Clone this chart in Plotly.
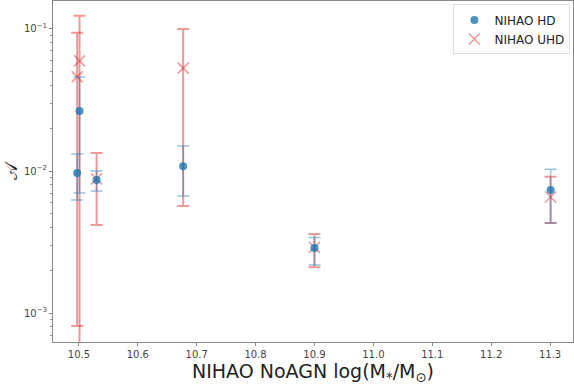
import plotly.graph_objects as go

# NIHAO HD
hd_x = [10.497, 10.501, 10.530, 10.677, 10.900, 11.301]
hd_y = [0.0097, 0.0265, 0.00865, 0.0108, 0.00287, 0.00735]
hd_hi = [0.0132, 0.0459, 0.0100, 0.0150, 0.0034, 0.0103]
hd_lo = [0.00625, 0.0070, 0.00723, 0.00667, 0.00218, 0.0043]

# NIHAO UHD
uhd_x = [10.497, 10.501, 10.530, 10.677, 10.900, 11.301]
uhd_y = [0.046, 0.0596, 0.0088, 0.053, 0.0029, 0.00656]
uhd_hi = [0.094, 0.124, 0.0134, 0.100, 0.0036, 0.0091]
uhd_lo = [0.00081, 0.00001, 0.00417, 0.00567, 0.0021, 0.0043]

x_ticks = [10.5, 10.6, 10.7, 10.8, 10.9, 11.0, 11.1, 11.2, 11.3]
y_ticks = [1e-3, 1e-2, 1e-1]
y_ticktext = ["10<sup>−3</sup>", "10<sup>−2</sup>", "10<sup>−1</sup>"]

fig = go.Figure()

fig.add_trace(go.Scatter(
    x=uhd_x, y=uhd_y, mode="markers", name="NIHAO UHD",
    marker=dict(symbol="x-thin-open", size=11, line=dict(color="rgba(214,39,40,0.47)", width=1.5),
                color="rgba(214,39,40,0.47)"),
    error_y=dict(type="data", symmetric=False,
                 array=[h - v for h, v in zip(uhd_hi, uhd_y)],
                 arrayminus=[v - l for l, v in zip(uhd_lo, uhd_y)],
                 color="rgba(214,39,40,0.47)", thickness=2, width=6),
))

fig.add_trace(go.Scatter(
    x=hd_x, y=hd_y, mode="markers", name="NIHAO HD",
    marker=dict(symbol="circle", size=8, color="rgba(31,119,180,0.8)"),
    error_y=dict(type="data", symmetric=False,
                 array=[h - v for h, v in zip(hd_hi, hd_y)],
                 arrayminus=[v - l for l, v in zip(hd_lo, hd_y)],
                 color="rgba(31,119,180,0.45)", thickness=1.5, width=6),
))

fig.update_layout(
    width=574, height=386,
    margin=dict(l=53, r=1, t=1, b=44),
    paper_bgcolor="white", plot_bgcolor="white",
    font=dict(family="DejaVu Sans", color="#333333"),
    legend=dict(x=0.995, y=0.99, xanchor="right", yanchor="top",
                bgcolor="rgba(255,255,255,0.8)", bordercolor="#dddddd", borderwidth=1,
                font=dict(size=12, color="#222222"), traceorder="reversed",
                itemwidth=30, tracegroupgap=0),
    showlegend=True,
)

fig.update_xaxes(
    range=[10.456, 11.339], tickvals=x_ticks, ticktext=[f"{v:.1f}" for v in x_ticks],
    ticks="outside", ticklen=3, tickcolor="#888888", tickfont=dict(size=10, color="#444444"),
    showline=True, linecolor="#888888", linewidth=1, mirror=True, showgrid=False, zeroline=False,
    title=dict(text="NIHAO NoAGN log(M<sub>*</sub>/M<sub>⊙</sub>)", font=dict(size=19, color="#222222"),
               standoff=4),
)

fig.update_yaxes(
    type="log", range=[-3.204, -0.803], tickvals=y_ticks, ticktext=y_ticktext,
    ticks="outside", ticklen=3, tickcolor="#888888", tickfont=dict(size=10, color="#444444"),
    minor=dict(ticks="outside", ticklen=2, tickcolor="#999999", showgrid=False, dtick="D1"),
    showline=True, linecolor="#888888", linewidth=1, mirror=True, showgrid=False, zeroline=False,
    title=dict(text="𝒜", font=dict(size=18, color="#222222"), standoff=6),
)

fig.write_html("out.html", config={"displayModeBar": False},
               post_script="document.body.style.margin='0';document.body.style.overflow='hidden';")
